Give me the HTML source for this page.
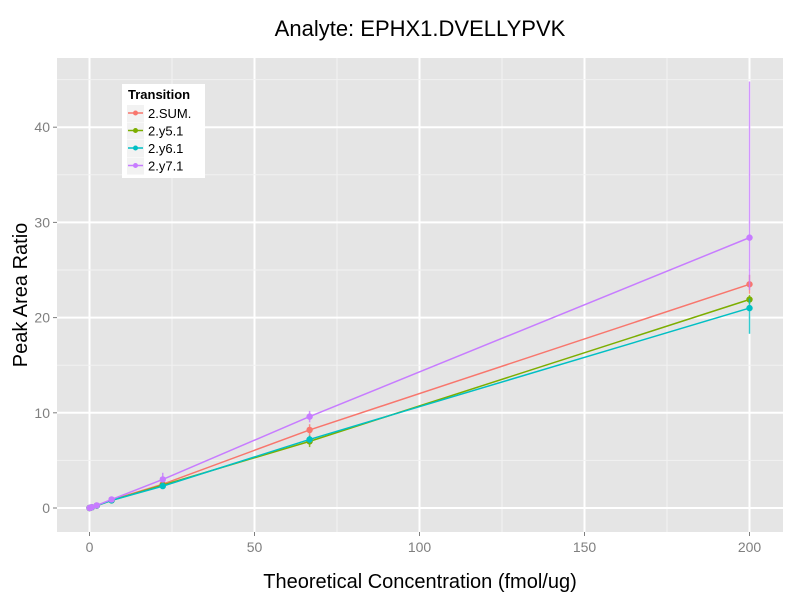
<!DOCTYPE html>
<html><head><meta charset="utf-8"><style>body{margin:0;background:#fff}svg{display:block;font-family:"Liberation Sans",sans-serif}</style></head>
<body>
<svg id="c" width="800" height="600">
<rect x="57" y="58" width="726" height="474" fill="#e5e5e5"/>
<g id="grid"></g><g id="series"></g><g id="axes"></g>
<text x="420" y="36" text-anchor="middle" font-size="22">Analyte: EPHX1.DVELLYPVK</text>
<text x="420" y="588" text-anchor="middle" font-size="20">Theoretical Concentration (fmol/ug)</text>
<text transform="translate(27,295) rotate(-90)" text-anchor="middle" font-size="20">Peak Area Ratio</text>
<g id="legend">
<rect x="122" y="84" width="83" height="94" fill="#fff"/>
<text x="128" y="99" font-size="13" font-weight="bold">Transition</text>
</g>
</svg>
<script>
const xs=[0,0.22,0.67,2.2,6.7,22.2,66.7,200];
const seriesNames=["2.SUM.","2.y5.1","2.y6.1","2.y7.1"];
const colors=["#f8766d","#7cae00","#00bfc4","#c77cff"];
const sumVals=[0,0.02,0.07,0.25,0.85,2.5,8.2,23.5];
const y5Vals=[0,0.02,0.07,0.24,0.8,2.4,7.0,21.9];
const y6Vals=[0,0.02,0.07,0.24,0.8,2.3,7.2,21.0];
const y7Vals=[0,0.02,0.08,0.27,0.9,3.0,9.6,28.4];
const sumLo=[0,0,0,0.02,0.05,0.2,0.6,1.0];
const sumHi=[0,0,0,0.02,0.05,0.2,0.6,1.0];
const y5Lo=[0,0,0,0.02,0.05,0.2,0.6,0.5];
const y5Hi=[0,0,0,0.02,0.05,0.2,0.6,0.5];
const y6Lo=[0,0,0,0.02,0.05,0.2,0.4,2.7];
const y6Hi=[0,0,0,0.02,0.05,0.2,0.4,1.0];
const y7Lo=[0,0,0,0.02,0.05,0.3,0.6,5.5];
const y7Hi=[0,0,0,0.02,0.05,0.7,0.6,16.4];
const xTicks=[0,50,100,150,200];
const yTicks=[0,10,20,30,40];
const X=v=>89.5+v*3.3, Y=v=>508-v*9.52;
const NS="http://www.w3.org/2000/svg";
function mk(p,t,a){const e=document.createElementNS(NS,t);for(const k in a)e.setAttribute(k,a[k]);p.appendChild(e);return e;}
const g=document.getElementById('grid'),ax=document.getElementById('axes'),sg=document.getElementById('series');
xTicks.forEach((t,i)=>{
 if(i<xTicks.length-1){const m=mk(g,'line',{x1:X(t+25),x2:X(t+25),y1:58,y2:532,stroke:'#f2f2f2','stroke-width':1});}
 const l=mk(g,'line',{x1:X(t),x2:X(t),y1:58,y2:532,stroke:'#fff','stroke-width':2});
 
 mk(ax,'line',{x1:X(t),x2:X(t),y1:532,y2:536,stroke:'#7f7f7f'});
 const tx=mk(ax,'text',{x:X(t),y:552,'text-anchor':'middle','font-size':14,fill:'#7f7f7f'});tx.textContent=t;
 
});
yTicks.forEach((t,i)=>{
 const m=mk(g,'line',{x1:57,x2:783,y1:Y(t+5),y2:Y(t+5),stroke:'#f2f2f2','stroke-width':1});
 const l=mk(g,'line',{x1:57,x2:783,y1:Y(t),y2:Y(t),stroke:'#fff','stroke-width':2});
 
 mk(ax,'line',{x1:53,x2:57,y1:Y(t),y2:Y(t),stroke:'#7f7f7f'});
 const tx=mk(ax,'text',{x:50,y:Y(t)+5,'text-anchor':'end','font-size':14,fill:'#7f7f7f'});tx.textContent=t;
 
});
const vals=[sumVals,y5Vals,y6Vals,y7Vals],los=[sumLo,y5Lo,y6Lo,y7Lo],his=[sumHi,y5Hi,y6Hi,y7Hi];
vals.forEach((vs,s)=>{
 const grp=mk(sg,'g',{});
 
 
 const pl=mk(grp,'polyline',{points:vs.map((v,i)=>X(xs[i])+','+Y(v)).join(' '),fill:'none',stroke:colors[s],'stroke-width':1.5});
 
 vs.forEach((v,i)=>{
  const lo=los[s][i],hi=his[s][i];
  if(lo+hi>0){const eb=mk(grp,'line',{x1:X(xs[i]),x2:X(xs[i]),y1:Y(v-lo),y2:Y(v+hi),stroke:colors[s],'stroke-width':1.5,opacity:0.8});
   }
  const c=mk(grp,'circle',{cx:X(xs[i]),cy:Y(v),r:3.2,fill:colors[s]});
  
 });
});
const lg=document.getElementById('legend');
seriesNames.forEach((n,i)=>{
 const y=113+i*17.5;
 const e=mk(lg,'g',{});
 
 mk(e,'rect',{x:127,y:y-8,width:17,height:17,fill:'#f2f2f2'});
 mk(e,'line',{x1:128,x2:143,y1:y,y2:y,stroke:colors[i],'stroke-width':1.5});
 mk(e,'circle',{cx:135.5,cy:y,r:2.5,fill:colors[i]});
 const t=mk(e,'text',{x:148,y:y+5,'font-size':13});t.textContent=n;
});
</script>
</body></html>
